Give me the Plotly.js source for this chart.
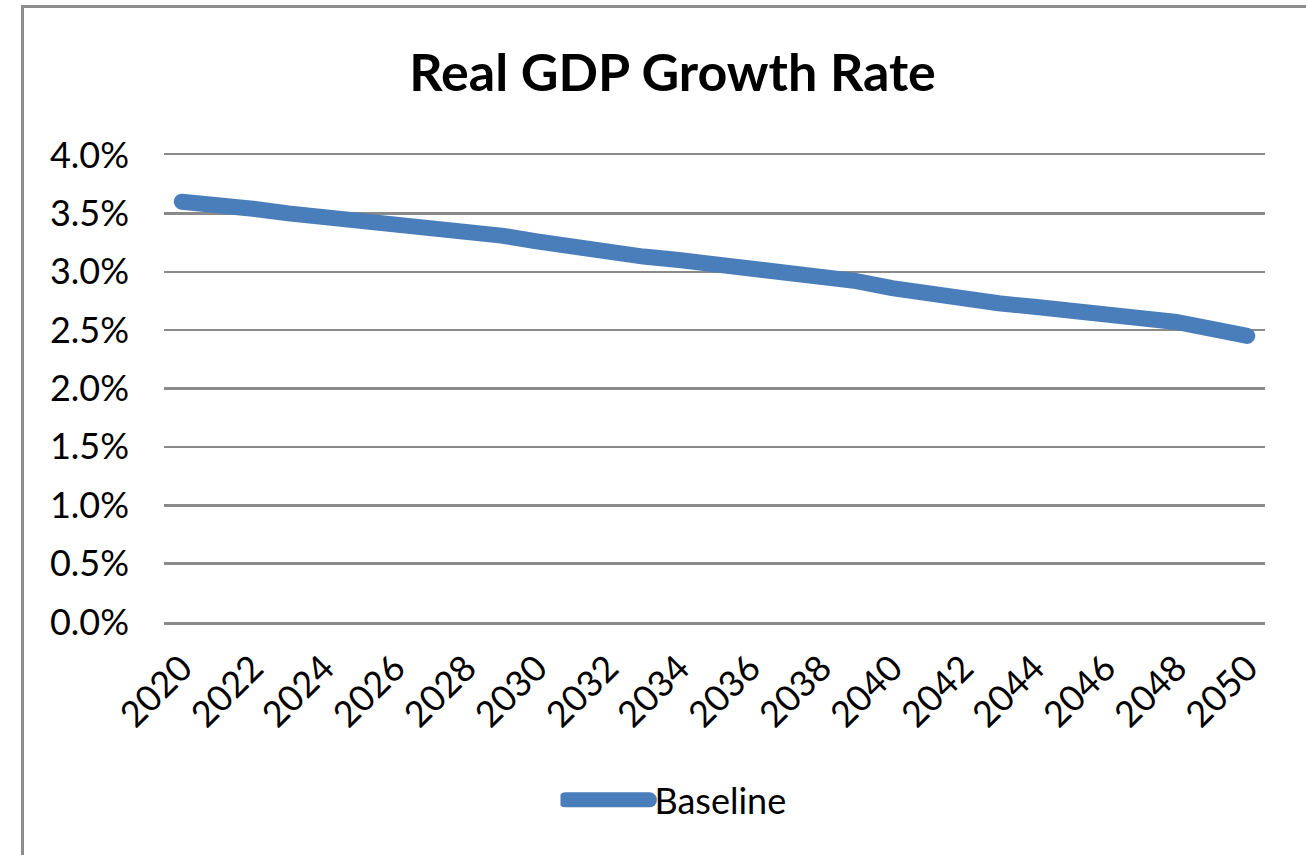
<!DOCTYPE html>
<html>
<head>
<meta charset="utf-8">
<script src="https://cdn.plot.ly/plotly-3.0.1.min.js"></script>
<style>
  html, body { margin: 0; padding: 0; background: #fff; overflow: hidden; }
  #wrap { position: relative; width: 1306px; height: 855px; }
  #chart { position: absolute; left: 0; top: 0; width: 1306px; height: 855px; }
  #frame { position: absolute; left: 21px; top: 5px; width: 1400px; height: 1000px;
           border: 3px solid #8c8c8c; pointer-events: none; box-sizing: border-box; }
</style>
</head>
<body>
<div id="wrap">
  <div id="chart"></div>
  <div id="frame"></div>
</div>
<script>
const years = ["2020","2021","2022","2023","2024","2025","2026","2027","2028","2029",
               "2030","2031","2032","2033","2034","2035","2036","2037","2038","2039",
               "2040","2041","2042","2043","2044","2045","2046","2047","2048","2049","2050"];
const baseline = [0.0360,0.0358,0.0354,0.0350,0.0347,0.0344,0.0341,0.0339,0.0335,0.0331,
                  0.0326,0.0321,0.0318,0.0313,0.0310,0.0307,0.0304,0.0301,0.0297,0.0292,
                  0.0286,0.0281,0.0278,0.0273,0.0270,0.0267,0.0264,0.0261,0.0257,0.0251,0.0245];
const tickYears = ["2020","2022","2024","2026","2028","2030","2032","2034","2036","2038",
                   "2040","2042","2044","2046","2048","2050"];
const yTicks = [0,0.005,0.01,0.015,0.02,0.025,0.03,0.035,0.04];
const seriesName = "Baseline";
const chartTitle = "Real GDP Growth Rate";

const FONT = "Lato, 'Open Sans', sans-serif";
const BLUE = "#4a7ebb";
const GRID = "#8a8a8a";

const trace = {
  x: years, y: baseline, type: "scatter", mode: "lines", name: seriesName,
  line: { color: BLUE, width: 16 }, hoverinfo: "skip"
};

const layout = {
  width: 1306, height: 855,
  margin: { l: 164, r: 41, t: 155, b: 233 },
  paper_bgcolor: "#fff", plot_bgcolor: "#fff",
  font: { family: FONT, color: "#000", size: 36 },
  title: { text: "<b>" + chartTitle + "</b>", font: { family: FONT, size: 52, color: "#000" },
           x: 0.515, xref: "container", xanchor: "center", y: 0.915, yref: "container", yanchor: "middle" },
  xaxis: {
    type: "category", tickmode: "array", tickvals: tickYears, ticktext: tickYears,
    tickangle: -45, showgrid: false, zeroline: false,
    showline: true, mirror: true, linecolor: GRID, linewidth: 2.5, ticks: "",
    tickfont: { family: FONT, size: 36, color: "#000" }, ticklabelstandoff: 8,
    range: [-0.5, years.length - 0.5]
  },
  yaxis: {
    range: [0, 0.04], tickmode: "array", tickvals: yTicks, tickformat: ".1%",
    showgrid: true, gridcolor: GRID, gridwidth: 2.5, zeroline: false, showline: false, ticks: "",
    tickfont: { family: FONT, size: 36, color: "#000" }, ticklabelstandoff: 34
  },
  showlegend: true,
  legend: { orientation: "h", x: 0.465, xanchor: "center", y: -0.381, yanchor: "middle",
            itemwidth: 84,
            font: { family: FONT, size: 36, color: "#000" }, bgcolor: "rgba(0,0,0,0)" }
};

function fixCaps() {
  document.querySelectorAll("#chart .js-line").forEach(function (p) {
    p.style.strokeLinecap = "round";
  });
  document.querySelectorAll("#chart .legend .js-line").forEach(function (p) {
    p.style.strokeWidth = "15px";
  });
}

Plotly.newPlot("chart", [trace], layout, { displayModeBar: false, staticPlot: true }).then(function () {
  fixCaps();
  setTimeout(fixCaps, 50);
});
</script>
</body>
</html>
